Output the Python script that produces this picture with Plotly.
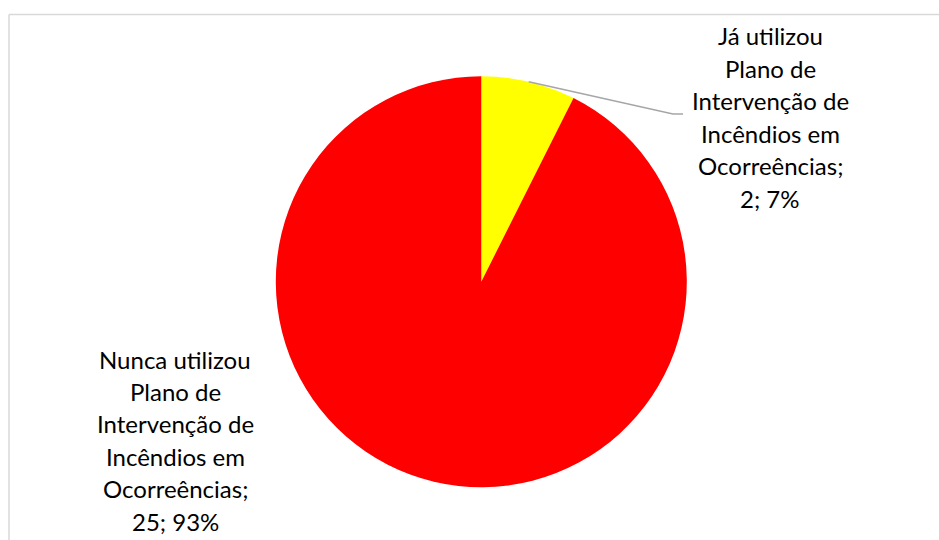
import math
import plotly.graph_objects as go

# Data
labels = ["Já utilizou Plano de Intervenção de Incêndios em Ocorreências",
          "Nunca utilizou Plano de Intervenção de Incêndios em Ocorreências"]
values = [2, 25]
colors = ["#FFFF00", "#FF0000"]
label_lines = [
    ["Já utilizou", "Plano de", "Intervenção de", "Incêndios em", "Ocorreências;"],
    ["Nunca utilizou", "Plano de", "Intervenção de", "Incêndios em", "Ocorreências;"],
]

W, H = 939, 540
cx, cy, R = 481.3, 281.7, 205.5

fig = go.Figure(go.Pie(
    labels=labels, values=values, sort=False, direction="clockwise", rotation=0,
    marker=dict(colors=colors, line=dict(width=0)),
    textinfo="none", hoverinfo="label+value+percent", showlegend=False,
    domain=dict(x=[(cx - R) / W, (cx + R) / W], y=[1 - (cy + R) / H, 1 - (cy - R) / H]),
))

total = sum(values)
font = dict(family="Lato, 'Open Sans', sans-serif", size=24, color="#000000")
line_h = 32.4
# label block centres (px)
centres = [(770, 117), (175, 440)]
for i, (lines, v) in enumerate(zip(label_lines, values)):
    pct = round(100 * v / total)
    all_lines = lines + [f"{v}; {pct}%"]
    bx, by = centres[i]
    n = len(all_lines)
    for k, t in enumerate(all_lines):
        y = by + (k - (n - 1) / 2) * line_h
        fig.add_annotation(x=bx / W, y=1 - y / H, xref="paper", yref="paper",
                           text=t, showarrow=False, font=font,
                           xanchor="center", yanchor="middle")

# leader line from middle of first slice
mid = 360 * (values[0] / 2) / total
sx = cx + R * math.sin(math.radians(mid))
sy = cy - R * math.cos(math.radians(mid))
pts = [(sx, sy), (673, 114), (683, 114)]
path = "M " + " L ".join(f"{x / W},{1 - y / H}" for x, y in pts)
fig.add_shape(type="path", path=path, xref="paper", yref="paper",
              line=dict(color="#A6A6A6", width=1.5))

# chart frame (partially visible)
fig.add_shape(type="line", xref="paper", yref="paper", x0=9 / W, x1=1.0,
              y0=1 - 14.5 / H, y1=1 - 14.5 / H, line=dict(color="#D9D9D9", width=1.5))
fig.add_shape(type="line", xref="paper", yref="paper", x0=9 / W, x1=9 / W,
              y0=1 - 14.5 / H, y1=0, line=dict(color="#D9D9D9", width=1.5))

fig.update_layout(width=W, height=H, margin=dict(l=0, r=0, t=0, b=0),
                  paper_bgcolor="white", plot_bgcolor="white")
fig.write_html("out.html", config={"displayModeBar": False},
               post_script="document.body.style.margin='0';")
